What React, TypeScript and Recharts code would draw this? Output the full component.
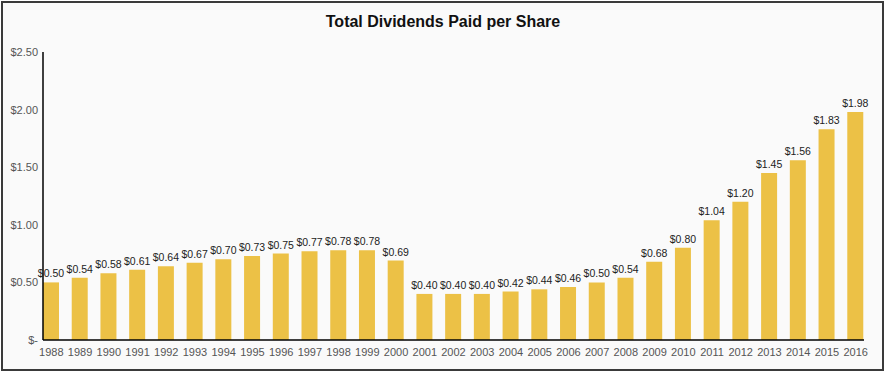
import React from "react";
import { BarChart, Bar, XAxis, YAxis, LabelList } from "recharts";

const years = [
  "1988", "1989", "1990", "1991", "1992", "1993", "1994", "1995", "1996", "1997",
  "1998", "1999", "2000", "2001", "2002", "2003", "2004", "2005", "2006", "2007",
  "2008", "2009", "2010", "2011", "2012", "2013", "2014", "2015", "2016",
];
const dividends = [
  0.5, 0.54, 0.58, 0.61, 0.64, 0.67, 0.7, 0.73, 0.75, 0.77,
  0.78, 0.78, 0.69, 0.4, 0.4, 0.4, 0.42, 0.44, 0.46, 0.5,
  0.54, 0.68, 0.8, 1.04, 1.2, 1.45, 1.56, 1.83, 1.98,
];
const yTicks = [0, 0.5, 1, 1.5, 2, 2.5];

const data = years.map((year, i) => ({ year, value: dividends[i] }));

const money = (v: number) => (v === 0 ? "$-" : `$${v.toFixed(2)}`);
const font = "Arial, 'Liberation Sans', sans-serif";

export default function App() {
  return (
    <div style={{ position: "relative", width: 886, height: 374, background: "#fff", fontFamily: font }}>
      <style>{`body{margin:0}`}</style>
      <div
        style={{
          position: "absolute", left: 1, top: 1, width: 879, height: 366,
          border: "2px solid #3a3a3a", background: "#fafafa",
        }}
      />
      <div
        style={{
          position: "absolute", left: 0, top: 13, width: 886, textAlign: "center",
          fontSize: 16, fontWeight: "bold", color: "#111",
        }}
      >
        Total Dividends Paid per Share
      </div>
      <div style={{ position: "absolute", left: 0, top: 0 }}>
        <BarChart
          width={886}
          height={374}
          data={data}
          margin={{ top: 52, right: 22, left: 0, bottom: 0 }}
        >
          <XAxis
            dataKey="year"
            height={34}
            padding={{ left: -6, right: -6 }}
            tickLine={false}
            axisLine={{ stroke: "#000", strokeWidth: 1.5 }}
            interval={0}
            tick={{ fontSize: 11, fill: "#555", fontFamily: font }}
          />
          <YAxis
            width={43}
            domain={[0, 2.5]}
            ticks={yTicks}
            tickFormatter={money}
            tickLine={false}
            tickSize={3}
            axisLine={{ stroke: "#000", strokeWidth: 1.5 }}
            tick={{ fontSize: 11, fill: "#555", fontFamily: font }}
          />
          <Bar dataKey="value" fill="#ecc146" barSize={16} isAnimationActive={false}>
            <LabelList
              dataKey="value"
              position="top"
              formatter={(v: number) => money(v)}
              style={{ fontSize: 10.5, fill: "#222", fontFamily: font }}
            />
          </Bar>
        </BarChart>
      </div>
    </div>
  );
}
